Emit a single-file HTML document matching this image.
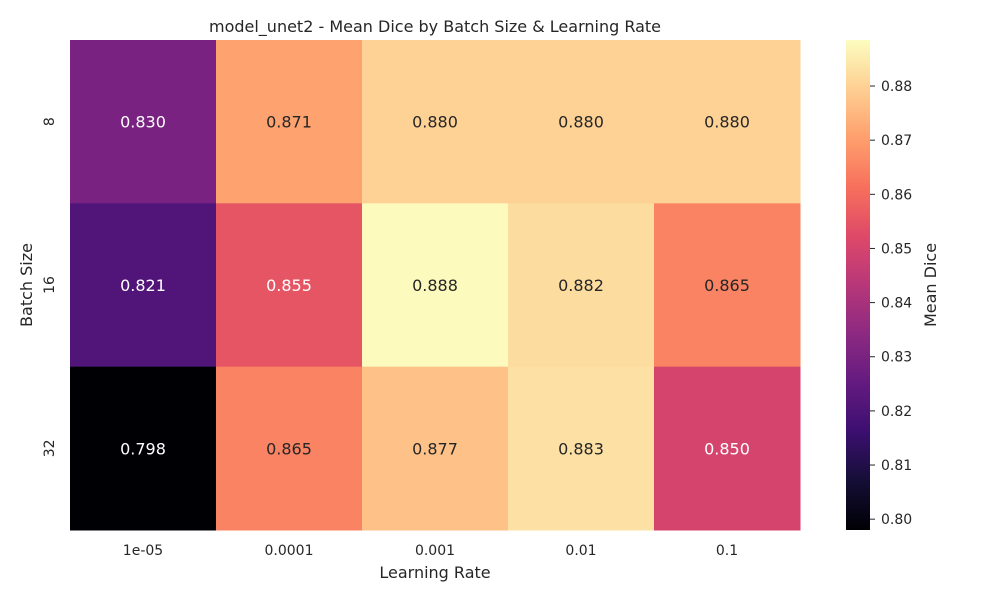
<!DOCTYPE html>
<html><head><meta charset="utf-8"><style>
body{margin:0;background:#fff;}
svg text{font-family:"DejaVu Sans","Liberation Sans",sans-serif;fill:#262626;}
</style></head><body>
<svg id="chart" width="1000" height="600" xmlns="http://www.w3.org/2000/svg">
<defs><linearGradient id="cbgrad" x1="0" y1="1" x2="0" y2="0"></linearGradient></defs>
<text x="435" y="32" font-size="16" text-anchor="middle">model_unet2 - Mean Dice by Batch Size &amp; Learning Rate</text>
<g id="cells"></g>
<g id="xticks"></g>
<g id="yticks"></g>
<text x="435" y="578" font-size="16" text-anchor="middle">Learning Rate</text>
<text transform="translate(32,285) rotate(-90)" font-size="16" text-anchor="middle">Batch Size</text>
<rect x="846" y="40" width="24" height="490" fill="url(#cbgrad)"/>
<g id="cbticks"></g>
<text transform="translate(936,285) rotate(-90)" font-size="16" text-anchor="middle">Mean Dice</text>
</svg>
<script>
const learningRates = ["1e-05","0.0001","0.001","0.01","0.1"];
const batchSizes = ["8","16","32"];
const dice = [
  [0.830,0.871,0.880,0.880,0.880],
  [0.821,0.855,0.888,0.882,0.865],
  [0.798,0.865,0.877,0.883,0.850]
];
const cbTicks = [0.80,0.81,0.82,0.83,0.84,0.85,0.86,0.87,0.88];

const NS="http://www.w3.org/2000/svg";
const X0=70,X1=800,Y0=40,Y1=530;
const vmin=0.798, vmax=0.8885;
const magma=["#000004","#140e36","#3b0f70","#641a80","#8c2981","#b73779","#de4968","#f7705c","#fe9f6d","#fecf92","#fcfdbf"];
function hex(h){return [1,3,5].map(i=>parseInt(h.substr(i,2),16));}
function cmap(t){t=Math.max(0,Math.min(1,t));const p=t*10,i=Math.min(9,Math.floor(p)),f=p-i;
 const a=hex(magma[i]),b=hex(magma[i+1]);const c=a.map((v,k)=>Math.round(v+(b[k]-v)*f));return c;}
const cw=(X1-X0)/learningRates.length, ch=(Y1-Y0)/batchSizes.length;
function xPos(i){return X0+i*cw;}
function yPos(j){return Y0+j*ch;}
function cbY(v){return Y1-(v-vmin)/(vmax-vmin)*(Y1-Y0);}
function mk(tag,attrs,parent){const e=document.createElementNS(NS,tag);for(const k in attrs)e.setAttribute(k,attrs[k]);parent.appendChild(e);return e;}
const cells=document.getElementById('cells');
dice.forEach((row,j)=>row.forEach((v,i)=>{
 const c=cmap((v-vmin)/(vmax-vmin));
 const r=mk('rect',{x:xPos(i),y:yPos(j),width:cw+0.5,height:ch+0.5,fill:`rgb(${c})`},cells);
 
 
 const lum=0.299*c[0]+0.587*c[1]+0.114*c[2];
 const t=mk('text',{x:xPos(i)+cw/2,y:yPos(j)+ch/2+6,'font-size':16,'text-anchor':'middle'},cells);
 t.style.fill=lum>160?'#262626':'#ffffff';
 t.textContent=v.toFixed(3);
 
 
}));
const xt=document.getElementById('xticks');
learningRates.forEach((l,i)=>{
 const t=mk('text',{x:xPos(i)+cw/2,y:555,'font-size':14,'text-anchor':'middle'},xt);t.textContent=l;
 
 
});
const yt=document.getElementById('yticks');
batchSizes.forEach((b,j)=>{
 const yy=yPos(j)+ch/2;
 const t=mk('text',{transform:`translate(54,${yy}) rotate(-90)`,'font-size':14,'text-anchor':'middle'},yt);t.textContent=b;
 
 
});
const g=document.getElementById('cbgrad');
for(let k=0;k<=20;k++){const c=cmap(k/20);mk('stop',{offset:k/20,'stop-color':`rgb(${c})`},g);}
const cb=document.getElementById('cbticks');
cbTicks.forEach(v=>{
 const y=cbY(v);
 const l=mk('line',{x1:870,x2:875,y1:y,y2:y,stroke:'#262626'},cb);
 
 
 const t=mk('text',{x:881,y:y+5,'font-size':14},cb);t.textContent=v.toFixed(2);
 
 
});
</script>
</body></html>
